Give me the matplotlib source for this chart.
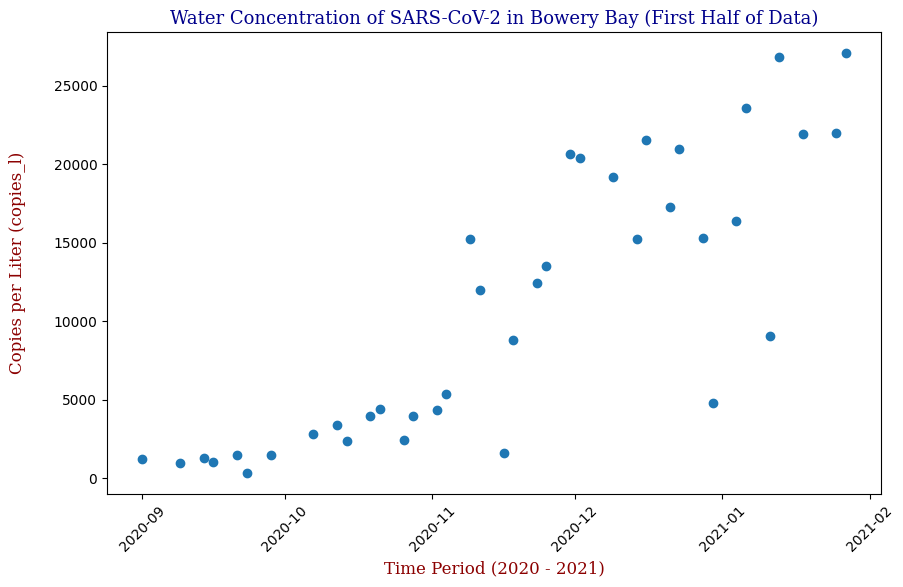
import numpy as np
import pandas as pd
import matplotlib
matplotlib.use("Agg")
import matplotlib.pyplot as plt

# sample dates and copies per liter
dates = ["2020-09-01", "2020-09-09", "2020-09-14", "2020-09-16", "2020-09-21",
         "2020-09-23", "2020-09-28", "2020-10-07", "2020-10-12", "2020-10-14",
         "2020-10-19", "2020-10-21", "2020-10-26", "2020-10-28", "2020-11-02",
         "2020-11-04", "2020-11-09", "2020-11-11", "2020-11-16", "2020-11-18",
         "2020-11-23", "2020-11-25", "2020-11-30", "2020-12-02", "2020-12-09",
         "2020-12-14", "2020-12-16", "2020-12-21", "2020-12-23", "2020-12-28",
         "2020-12-30", "2021-01-04", "2021-01-06", "2021-01-11", "2021-01-13",
         "2021-01-18", "2021-01-25", "2021-01-27"]
copies_l = [1230, 975, 1290, 1040, 1485,
            320, 1465, 2800, 3380, 2380,
            3970, 4400, 2440, 3970, 4335,
            5350, 15230, 12000, 1590, 8800,
            12430, 13510, 20670, 20410, 19180,
            15230, 21540, 17270, 20990, 15300,
            4780, 16380, 23580, 9070, 26830,
            21920, 21990, 27090]

x = pd.to_datetime(dates)

fig = plt.figure(figsize=(9.04, 5.87), dpi=100)
ax = fig.add_subplot(111)
fig.subplots_adjust(left=107/904, right=881/904, bottom=(587-494)/587, top=(587-32)/587)

ax.scatter(x, copies_l)

ax.set_title("Water Concentration of SARS-CoV-2 in Bowery Bay (First Half of Data)",
             family="serif", color="darkblue", fontsize=13)
ax.set_xlabel("Time Period (2020 - 2021)", family="serif", color="darkred", fontsize=12)
ax.set_ylabel("Copies per Liter (copies_l)", family="serif", color="darkred", fontsize=12,
              labelpad=20)
plt.xticks(rotation=45)

plt.savefig("out.png", dpi=100)
